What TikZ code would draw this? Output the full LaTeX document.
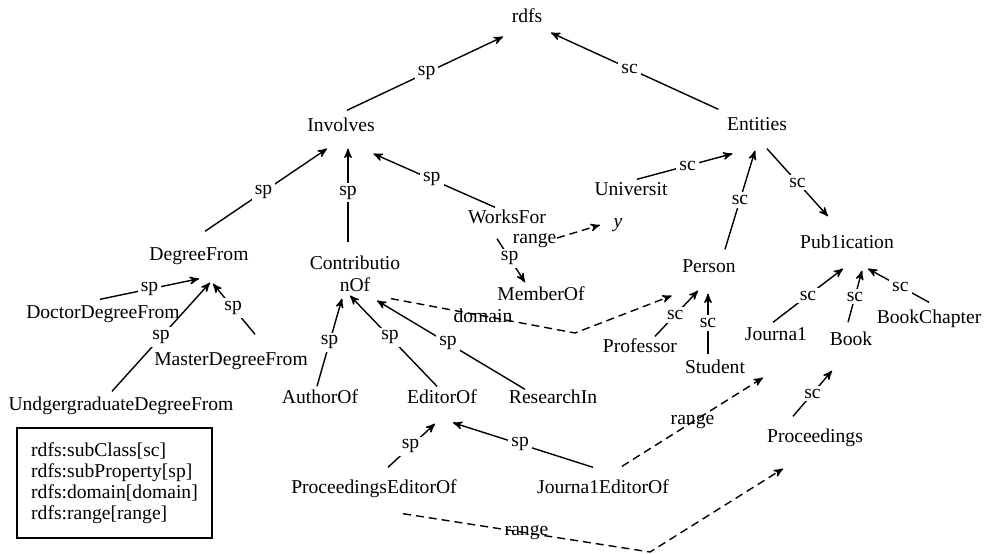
\documentclass[tikz,border=0pt]{standalone}
\usepackage{fontspec}
\setmainfont{Liberation Serif}
\usepackage{tikz}
\usetikzlibrary{arrows}

\begin{document}
\begin{tikzpicture}[x=0.5pt, y=-0.5pt, >=stealth', line width=0.7pt, font=\fontsize{9.8pt}{10.5pt}\selectfont,
  main/.style = {inner xsep=4pt, inner ysep=3pt, text height=7pt, text depth=2pt},
  lbl/.style = {fill=white, inner sep=1.5pt},
  dsh/.style = {dash pattern=on 4pt off 2.5pt}]
\useasboundingbox (0,0) rectangle (986,553);
\node[main] (rdfs) at (527,17) {rdfs};
\node[main] (inv) at (341,126) {Involves};
\node[main] (ent) at (757,125) {Entities};
\node[main] (deg) at (199,255) {DegreeFrom};
\node[main] (doc) at (103,313) {DoctorDegreeFrom};
\node[main] (mas) at (231,360) {MasterDegreeFrom};
\node[main] (und) at (121,405) {UndgergraduateDegreeFrom};
\node[inner xsep=4pt, inner ysep=3pt, align=center] (contrib) at (355,274) {Contributio\\[0.5pt]nOf};
\node[main] (works) at (507,218) {WorksFor};
\node[main] (univ) at (631,190) {Universit};
\node[main] (yy) at (618,222) {\textit{y}};
\node[main] (member) at (541,295) {MemberOf};
\node[main] (person) at (709,267) {Person};
\node[main] (pub) at (847,243) {Pub1ication};
\node[main] (prof) at (640,347) {Professor};
\node[main] (stud) at (715,368) {Student};
\node[main] (jour) at (776,335) {Journa1};
\node[main] (book) at (851,340) {Book};
\node[main] (bookch) at (929,318) {BookChapter};
\node[main] (proc) at (815,437) {Proceedings};
\node[main] (author) at (320,398) {AuthorOf};
\node[main] (editor) at (442,398) {EditorOf};
\node[main] (research) at (553,398) {ResearchIn};
\node[main] (procedit) at (374,488) {ProceedingsEditorOf};
\node[main] (jouredit) at (603,488) {Journa1EditorOf};
\node[draw, align=left, minimum width=97.5pt, minimum height=55pt] (key) at (114.5,483) {rdfs:subClass[sc]\\rdfs:subProperty[sp]\\rdfs:domain[domain]\\rdfs:range[range]};
\coordinate (wrng) at (557,238);
\coordinate (dbend) at (575,333);
\coordinate (rbend) at (650,552);
\draw[->] ([xshift=3pt]inv.north) -- node[lbl,pos=.51] {sp} ([yshift=-2pt]rdfs.south west);
\draw[->] (ent.north west) -- node[lbl,pos=.53] {sc} (rdfs.south east);
\draw[->] ([shift={(3pt,4pt)}]deg.north) -- node[lbl,pos=.48] {sp} ([shift={(-7pt,-3.5pt)}]inv.south);
\draw[->] ([shift={(-3.5pt,3.5pt)}]contrib.north) -- node[lbl,pos=.53] {sp} ([shift={(3.5pt,-3.5pt)}]inv.south);
\draw[->] ([shift={(-6pt,-2.5pt)}]works.north) -- node[lbl,pos=.52] {sp} ([shift={(-5pt,-6pt)}]inv.south east);
\draw[->] ([shift={(-1.5pt,-1pt)}]doc.north) -- node[lbl] {sp} ([yshift=-4pt]deg.south);
\draw[->] ([shift={(12pt,5pt)}]mas.north) -- node[lbl,pos=.52] {sp} ([shift={(7pt,-6.5pt)}]deg.south);
\draw[->] ([shift={(-4.5pt,-1pt)}]und.north) -- node[lbl] {sp} ([shift={(5.5pt,-6pt)}]deg.south);
\draw[->] ([shift={(3pt,-2.5pt)}]univ.north) -- node[lbl,pos=.53] {sc} ([shift={(7pt,-6.5pt)}]ent.south west);
\draw[->] ([shift={(8pt,1pt)}]person.north) -- node[lbl] {sc} ([shift={(-1pt,-5pt)}]ent.south);
\draw[->] ([shift={(5pt,-4pt)}]ent.south) -- node[lbl] {sc} ([shift={(-9.5pt,5.5pt)}]pub.north);
\draw[->] ([shift={(-5pt,-2.5pt)}]works.south) -- node[lbl,pos=.45] {sp} ([shift={(-8pt,-1.5pt)}]member.north);
\draw[->,dsh] (wrng) node[left,inner sep=0pt,yshift=-1.5pt] {range} -- ([shift={(-2.5pt,-1.5pt)}]yy.west);
\draw[->,dsh] ([xshift=-9pt]contrib.south east) -- node {domain} (dbend) -- ([shift={(-1pt,-6.5pt)}]person.south west);
\draw[->] ([shift={(7.5pt,-2.5pt)}]prof.north) -- node[lbl,pos=.47] {sc} ([shift={(-5.5pt,-4pt)}]person.south);
\draw[->] ([shift={(-3.5pt,-1pt)}]stud.north) -- node[lbl,pos=.52] {sc} ([shift={(-0.5pt,-5.5pt)}]person.south);
\draw[->] ([shift={(-1.5pt,-1.5pt)}]jour.north) -- node[lbl] {sc} ([shift={(-2pt,-5pt)}]pub.south);
\draw[->] ([shift={(-1.5pt,1pt)}]book.north) -- node[lbl] {sc} ([shift={(7.5pt,-6pt)}]pub.south);
\draw[->] (bookch.north) -- node[lbl,pos=.47] {sc} ([shift={(10.5pt,-5pt)}]pub.south);
\draw[->] ([shift={(-11pt,2.5pt)}]proc.north) -- node[lbl] {sc} ([shift={(-9.5pt,-7.5pt)}]book.south);
\draw[->] ([shift={(-1.5pt,-2pt)}]author.north) -- node[lbl] {sp} ([xshift=-6.5pt]contrib.south);
\draw[->] ([shift={(-2.5pt,-2pt)}]editor.north) -- node[lbl,pos=.54] {sp} ([shift={(-2.5pt,1.5pt)}]contrib.south);
\draw[->] ([shift={(-14pt,-3.5pt)}]research.north) -- node[lbl,pos=.52] {sp} ([shift={(11pt,-1pt)}]contrib.south);
\draw[->] ([shift={(7pt,2.5pt)}]procedit.north) -- node[lbl,pos=.48] {sp} ([shift={(-3.5pt,-5pt)}]editor.south);
\draw[->] ([shift={(-5pt,2.5pt)}]jouredit.north) -- node[lbl,pos=.52] {sp} ([shift={(5.5pt,-4.5pt)}]editor.south);
\draw[->,dsh] ([shift={(9.5pt,3pt)}]jouredit.north) -- node {range} ([shift={(-6.5pt,-13.5pt)}]jour.south);
\draw[->,dsh] ([shift={(14.5pt,-5pt)}]procedit.south) -- node {range} (rbend) -- ([shift={(-16pt,-8pt)}]proc.south);
\end{tikzpicture}
\end{document}
